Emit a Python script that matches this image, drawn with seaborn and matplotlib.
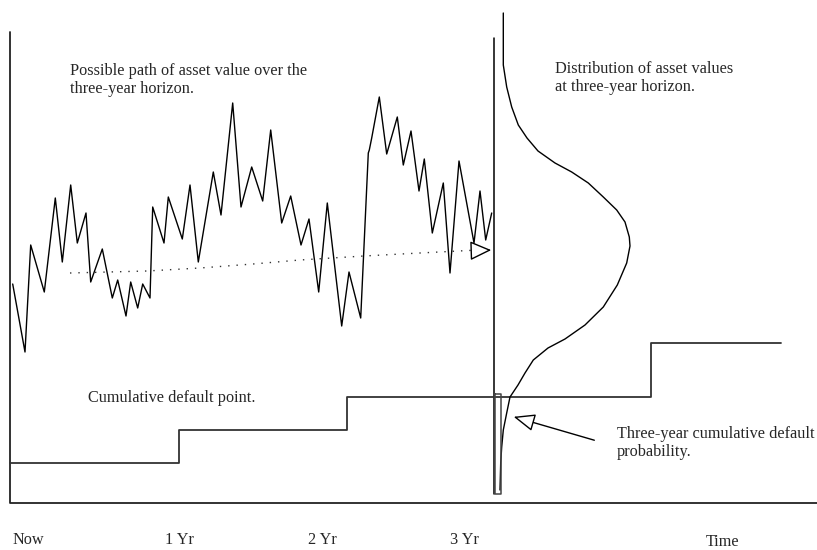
import matplotlib
matplotlib.use("Agg")
import matplotlib.pyplot as plt
import seaborn as sns

# ---- data (diagram units: x = horizontal position, y = vertical position, y grows downward) ----
path_x = [12.7, 25, 30.7, 44.3, 55.3, 62.3, 70.7, 77.3, 86, 90.7, 102.3, 112.3, 117.7, 126,
          130.7, 137.7, 142.7, 150, 152.7, 164, 168.3, 182.3, 190, 198.3, 213.3, 221, 232.7,
          241, 251.7, 262.7, 270.7, 281.7, 290.7, 301, 309, 318.7, 327.3, 341.7, 349, 360.7,
          368.3, 369.3, 371.7, 379.3, 386.7, 397.3, 403.3, 411, 419, 424.3, 432.3, 443.3, 450,
          459, 474, 480, 485.7, 491.7]
path_y = [284, 352, 245, 292, 198, 262, 185, 243, 213, 282, 249, 298, 280, 316,
          282, 308, 284, 298, 207, 243, 197, 239, 185, 262, 172, 215, 103,
          207, 167, 201, 130, 223, 196, 245, 219, 292, 203, 326, 272, 318,
          153, 150, 138, 97, 154, 117, 165, 131, 191, 159, 233, 183, 273,
          161, 243, 191, 240, 213]

trend_x = [70, 147, 200, 253, 300, 364, 420, 478]
trend_y = [273, 271, 268, 264, 260, 256, 253, 250]

step_x = [10, 179, 179, 347, 347, 651, 651, 781]
step_y = [463, 463, 430, 430, 397, 397, 343, 343]

dist_x = [503.3, 503.3, 506.7, 511.7, 518.3, 527, 538, 555, 571.7, 588.3, 603.3, 616.7, 625,
          629.3, 630, 626.7, 617.3, 603.3, 585, 565, 548, 533.3, 525, 518, 510, 506.7, 503.3,
          501.7, 500.7, 500]
dist_y = [13, 65, 87, 107, 125, 138, 151, 163, 172, 183, 197, 210, 222,
          237, 246, 263, 285, 307, 325, 339, 348, 360, 373, 385, 397, 413, 430,
          447, 463, 490]

tick_labels = ["Now", "1 Yr", "2 Yr", "3 Yr", "Time"]
tick_pos = [12, 165, 308, 450, 706]

sns.set_theme(style="white")
plt.rcParams["font.family"] = ["Liberation Serif", "DejaVu Serif"]

fig = plt.figure(figsize=(8.17, 5.5), dpi=100)
ax = fig.add_axes([0, 0, 1, 1])
ax.set_xlim(0, 817)
ax.set_ylim(550, 0)
ax.axis("off")


def line(x, y, **kw):
    sns.lineplot(x=x, y=y, sort=False, estimator=None, errorbar=None, ax=ax, **kw)


# frame lines (left axis, bottom axis, horizon line)
line([10, 10, 817], [32, 503, 503], color="#222222", lw=1.3)
line([494, 494], [38, 494], color="black", lw=1.1)

# cumulative default point steps
line(step_x, step_y, color="#333333", lw=1.3)

# asset path
line(path_x, path_y, color="black", lw=1.0)

# dotted expected drift
line(trend_x, trend_y, color="#333333", lw=1.0, linestyle=(0, (1, 5)))
ax.annotate("", xy=(494, 250), xytext=(478, 250.5),
            arrowprops=dict(arrowstyle="-|>,head_length=1.1,head_width=0.5",
                            fc="white", ec="black", lw=1.0))

# distribution
line(dist_x, dist_y, color="black", lw=1.0)

# default probability box
line([495, 495, 501, 501, 495], [394, 494, 494, 394, 394], color="#444444", lw=1.1)

# arrow to default probability
ax.annotate("", xy=(511, 416), xytext=(597, 441),
            arrowprops=dict(arrowstyle="-|>,head_length=1.1,head_width=0.45",
                            fc="white", ec="black", lw=1.0))

fs = 11.7
ax.text(70, 80, "Possible path of asset value over the\nthree-year horizon.",
        fontsize=fs, va="center", ha="left", linespacing=1.2)
ax.text(555, 78, "Distribution of asset values\nat three-year horizon.",
        fontsize=fs, va="center", ha="left", linespacing=1.2)
ax.text(88, 398, "Cumulative default point.", fontsize=fs, va="center", ha="left")
ax.text(617, 443, "Three-year cumulative default\nprobability.",
        fontsize=fs, va="center", ha="left", linespacing=1.2)

for lab, xp in zip(tick_labels, tick_pos):
    ax.text(xp, 542 if lab == "Time" else 540, lab, fontsize=fs, va="center", ha="left")

fig.savefig("out.png", dpi=100)
